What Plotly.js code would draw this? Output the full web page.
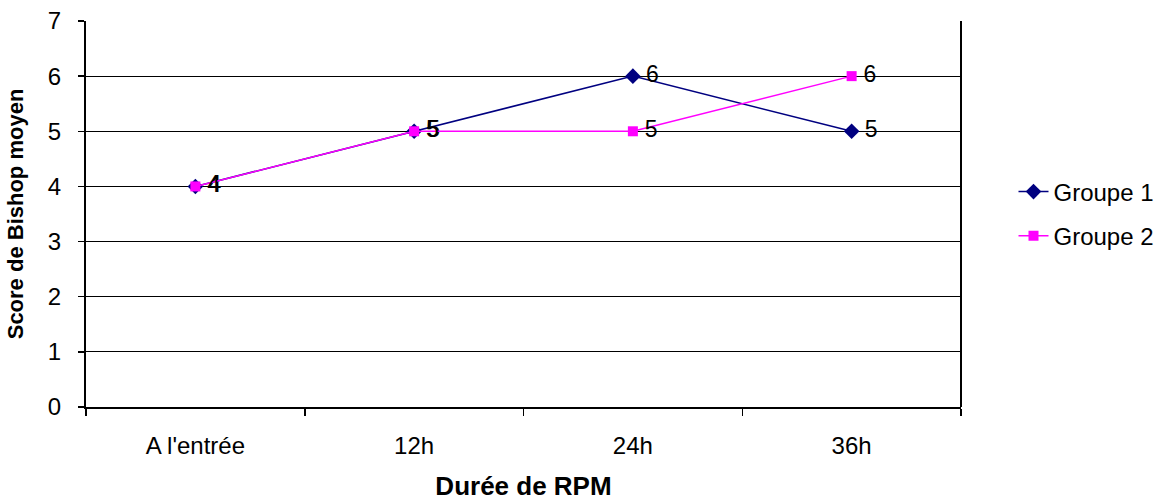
<!DOCTYPE html>
<html>
<head>
<meta charset="utf-8">
<script src="https://cdn.plot.ly/plotly-3.0.1.min.js"></script>
<style>body{margin:0;padding:0;background:#fff;} #chart{width:1161px;height:501px;}</style>
</head>
<body>
<div id="chart"></div>
<script>
const categories = ["A l'entrée", "12h", "24h", "36h"];
const groupe1 = [4, 5, 6, 5];
const groupe2 = [4, 5, 5, 6];
const seriesNames = ["Groupe 1", "Groupe 2"];

const font = "Liberation Sans, Arial, sans-serif";
const label = v => "\u2009" + v;
const traces = [
  {
    x: categories, y: groupe1, name: seriesNames[0], type: "scatter",
    mode: "lines+markers+text", legendgroup: "g1",
    text: groupe1.map(label), textposition: "middle right",
    textfont: {family: font, size: 23, color: "#000"},
    line: {color: "#000080", width: 1.5},
    marker: {symbol: "diamond", size: 12, color: "#000080"},
    cliponaxis: false
  },
  {
    x: categories, y: groupe2, name: seriesNames[1], type: "scatter",
    mode: "lines+markers+text", legendgroup: "g2",
    text: groupe2.map(label), textposition: "middle right",
    textfont: {family: font, size: 23, color: "#000"},
    line: {color: "#FF00FF", width: 1.5},
    marker: {symbol: "square", size: 10, color: "#FF00FF"},
    cliponaxis: false
  }
];

const layout = {
  width: 1161, height: 501,
  margin: {l: 86, r: 200, t: 21, b: 94, autoexpand: false},
  paper_bgcolor: "#fff", plot_bgcolor: "#fff",
  font: {family: font, size: 24, color: "#000"},
  showlegend: true,
  legend: {x: 1.06, y: 0.50, xanchor: "left", yanchor: "middle",
           traceorder: "grouped", tracegroupgap: 10,
           font: {family: font, size: 24, color: "#000"}},
  xaxis: {
    type: "category", range: [-0.5, 3.5],
    tickson: "boundaries", ticks: "outside", ticklen: 7, tickwidth: 1.5, tickcolor: "#000",
    ticklabelstandoff: 16,
    showline: true, linecolor: "#000", linewidth: 2, mirror: false,
    showgrid: false, zeroline: false,
    tickfont: {family: font, size: 24, color: "#000"},
    title: {text: "<b>Durée de RPM</b>", font: {family: font, size: 26, color: "#000"}, standoff: 24}
  },
  yaxis: {
    range: [0, 7], dtick: 1, tick0: 0,
    ticks: "outside", ticklen: 6, tickwidth: 1.5, tickcolor: "#000",
    ticklabelstandoff: 12,
    showline: true, linecolor: "#000", linewidth: 2, mirror: false,
    showgrid: true, gridcolor: "#000", gridwidth: 1.2, zeroline: false,
    tickfont: {family: font, size: 24, color: "#000"},
    title: {text: "<b>Score de Bishop moyen</b>", font: {family: font, size: 22, color: "#000"}, standoff: 18}
  },
  shapes: [
    {type: "line", xref: "paper", yref: "paper", x0: 1, x1: 1, y0: 0, y1: 1, line: {color: "#000", width: 2}}
  ]
};

Plotly.newPlot("chart", traces, layout, {displayModeBar: false, staticPlot: true});
</script>
</body>
</html>
